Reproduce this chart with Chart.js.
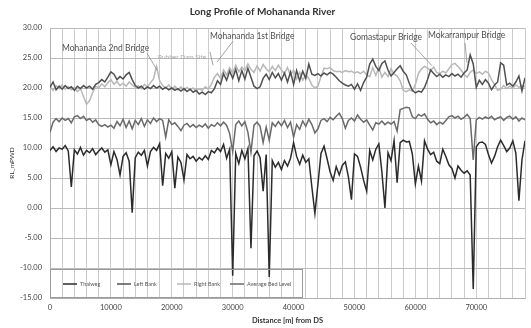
<!DOCTYPE html>
<html>
<head>
<meta charset="utf-8">
<title>Long Profile of Mohananda River</title>
<script src="https://cdn.jsdelivr.net/npm/chart.js@4.4.0/dist/chart.umd.min.js"></script>
<style>
  html, body { margin: 0; padding: 0; background: #ffffff; }
  #wrap { width: 531px; height: 328px; position: relative; }
</style>
</head>
<body>
<div id="wrap"><canvas id="profile" width="531" height="328"></canvas></div>
<script>
// Cross-section spacing along the river (m from downstream end)
const sectionSpacing = 500;

// Thalweg (deepest bed point) elevation, m PWD
const thalweg = [
  9.6, 10.2, 9.4, 10.0, 9.8, 10.4, 9.5, 3.5, 9.7, 9.0,
  10.1, 8.8, 9.6, 9.2, 9.9, 8.9, 9.5, 10.0, 9.3, 9.7,
  7.2, 9.4, 8.1, 5.5, 8.6, 9.2, 7.8, -0.8, 8.4, 9.3,
  8.8, 9.6, 7.0, 9.4, 10.1, 9.6, 10.7, 3.7, 9.1, 8.3,
  9.4, 3.3, 8.5, 7.6, 4.7, 8.9, 8.2, 8.6, 7.8, 8.4,
  8.0, 8.7, 8.1, 9.6, 9.2, 10.0, 9.4, 10.6, 8.3, 9.8,
  -11.3, 9.1, 7.4, 9.6, 8.2, 9.9, -6.7, 8.7, 9.5, 8.4,
  2.8, 8.9, -11.5, 7.9, 6.8, 7.6, 6.4, 7.9, 7.0, 8.3,
  10.9, 8.6, 7.3, 8.8, 7.6, 8.2, 3.5, -0.9, 4.0, 9.1,
  10.3, 8.2, 6.0, 4.6, 6.9, 5.5, 7.1, 7.7, 5.2, 1.4,
  9.0, 8.6, 6.8, 4.6, 2.8, 9.6, 8.0, 9.8, 10.7, 6.0,
  0.0, 9.2, 7.9, 11.2, 4.2, 10.9, 11.3, 11.0, 11.1, 9.0,
  4.0, 7.0, 4.5, 11.2, 9.8, 8.9, 9.3, 7.8, 7.4, 9.8,
  8.6, 7.2, 6.6, 5.0, 7.0, 6.3, 5.8, 6.2, 5.5, -13.5,
  10.2, 10.9, 11.0, 10.6, 8.9, 7.5, 8.6, 10.2, 11.3, 10.4,
  9.4, 10.0, 11.2, 9.1, 1.2, 8.0, 11.2
];

// Left bank top elevation, m PWD
const leftBank = [
  20.1, 21.0, 19.7, 20.3, 19.8, 20.4, 19.9, 20.2, 19.6, 20.3,
  19.9, 20.4, 20.0, 20.3, 19.8, 20.6, 20.9, 21.4, 21.0, 21.8,
  22.7, 22.3, 21.4, 21.9, 21.5, 22.2, 22.6, 21.4, 20.4, 20.0,
  20.3, 19.8, 20.2, 19.9, 20.4, 20.0, 20.3, 19.8, 20.1, 19.7,
  20.0, 19.6, 19.9, 19.5, 19.9, 19.4, 19.8, 19.3, 19.6, 19.0,
  19.3, 18.9, 19.4, 19.2, 19.9, 21.2, 20.6, 22.4, 21.3, 22.8,
  21.6, 23.1, 21.2, 22.9, 21.5, 23.3, 21.8, 20.3, 19.9, 20.2,
  21.6, 22.3, 21.4, 22.6, 21.7, 22.4, 21.3, 22.5, 21.0, 22.7,
  20.6, 22.9, 21.2, 22.8, 21.6, 24.0, 22.3, 22.1, 22.4, 22.0,
  22.5, 22.2, 22.6, 22.3, 21.8, 21.2, 20.8, 20.5, 20.3, 20.6,
  19.8, 20.7, 19.6, 20.9, 21.8, 24.0, 24.8, 23.6, 22.9, 24.1,
  24.5, 23.0, 22.0, 22.6, 23.2, 23.7, 22.8, 22.2, 20.8, 19.6,
  19.2, 19.5, 19.3, 20.1, 21.4, 23.0, 22.4, 21.9, 22.3, 21.8,
  22.2, 21.9, 22.4, 22.0, 22.3, 21.8, 22.5, 23.0, 25.5, 24.0,
  20.1, 21.3, 20.6, 21.4, 20.8, 19.7, 20.5, 21.0, 24.2, 23.8,
  20.5, 20.8, 20.3, 21.0, 22.0, 19.5, 21.7
];

// Right bank top elevation, m PWD
const rightBank = [
  20.3, 19.6, 20.4, 19.9, 20.5, 19.8, 20.2, 19.7, 20.1, 19.4,
  19.9, 18.6, 17.3, 17.9, 19.2, 20.3, 20.0, 20.7, 20.2, 20.9,
  21.4, 20.6, 21.1, 20.4, 20.8, 20.3, 21.0, 20.5, 20.1, 20.4,
  19.9, 20.6, 20.2, 20.9, 21.5, 23.6, 21.2, 20.4, 20.0, 20.5,
  19.8, 20.3, 19.7, 20.2, 19.6, 20.1, 19.7, 20.0, 19.5, 19.9,
  19.6, 20.2, 19.8, 20.6, 21.8, 22.4, 21.6, 23.0, 22.2, 23.4,
  22.5, 23.8, 22.7, 23.5, 22.9, 24.0, 23.1, 22.6, 23.7, 22.8,
  23.9, 23.2, 22.7, 23.6, 22.9, 23.8, 23.0, 22.4, 23.4, 22.1,
  23.0, 21.5, 22.6, 21.3, 22.2, 21.6, 20.5, 20.0, 20.3, 21.9,
  23.3, 23.2, 23.4, 22.9, 22.7, 22.8, 22.6, 22.9, 22.7, 22.8,
  22.5, 22.7, 22.4, 22.8, 22.2, 21.9, 23.4, 22.1, 23.5, 21.8,
  22.6, 21.9, 23.2, 22.3, 22.0, 21.2, 19.6, 19.4, 19.7, 19.5,
  20.6, 22.4, 23.2, 23.6, 23.3, 22.9, 23.5, 22.6, 22.4, 22.8,
  22.5, 23.2, 23.9, 24.1, 23.6, 23.0, 22.3, 21.8, 22.6, 23.0,
  22.4, 22.7, 22.3, 22.8, 22.5, 21.4, 20.6, 19.6, 19.8, 20.4,
  19.9, 20.3, 20.0, 20.5, 20.1, 20.4, 20.2
];

// Average bed level, m PWD
const averageBed = [
  12.6, 14.3, 14.9, 14.4, 15.0, 14.6, 14.9, 14.2, 15.2, 15.4,
  14.9, 15.3, 14.6, 14.9, 14.3, 14.7, 13.9, 13.6, 13.9, 13.5,
  13.8, 13.3, 14.4, 13.7, 14.8, 13.4, 14.5, 13.2, 14.6, 13.9,
  14.9, 13.6, 14.7, 14.1, 15.0, 14.4, 14.9, 14.6, 11.8, 14.7,
  13.9, 14.2, 13.6, 12.9, 13.8, 14.1, 13.5, 13.9, 13.4, 13.8,
  13.5, 14.0, 13.3, 13.9, 13.6, 14.2, 13.7, 14.3, 13.8, 12.4,
  9.4, 13.9, 14.5, 13.7, 14.4, 12.6, 9.3, 13.8, 14.3, 13.6,
  10.9, 13.5, 11.3, 14.2, 13.6, 14.4, 13.7, 14.6, 13.4, 14.3,
  11.8, 13.9, 13.1, 14.5, 13.6, 14.8, 13.9, 12.5, 13.2, 14.6,
  14.9, 14.4, 15.1, 14.7, 15.3, 15.8, 14.9, 13.3, 14.6, 15.0,
  14.5, 15.5, 14.8, 14.3, 14.7, 13.8, 13.0, 14.2, 14.0, 14.5,
  13.9, 14.3, 14.0, 14.4, 12.8, 16.4, 16.6, 16.8, 16.7, 15.2,
  14.9, 15.6, 15.3, 15.7, 14.8, 14.2, 14.5, 13.9, 14.3, 14.0,
  14.6, 15.2, 15.4, 15.0, 15.3, 14.8, 15.1, 15.6, 14.9, 8.0,
  14.7, 15.1, 14.8, 15.2, 14.9, 15.3, 14.7, 15.0, 15.2, 14.6,
  15.1, 15.3, 14.8, 15.2, 14.5, 15.0, 14.7
];

// Series names as shown in the legend
const seriesNames = ['Thalweg', 'Left Bank', 'Right Bank', 'Average Bed Level'];

// Structures along the reach
const structureNames = ['Mohananda 2nd Bridge', 'Rubber Dam Site', 'Mohananda 1st Bridge', 'Gomastapur Bridge', 'Mokarrampur Bridge'];

// Axis limits and tick spacing
const xMin = 0, xMax = 78000, xGridStep = 2000, xLabelStep = 10000;
const yMin = -15, yMax = 30, yStep = 5;

const chainage = thalweg.map((_, i) => i * sectionSpacing);
const toPoints = arr => arr.map((v, i) => ({ x: chainage[i], y: v }));

const FONT = 'Lato, "Open Sans", "Liberation Sans", sans-serif';
const seriesColors = ['#2b2b2b', '#505050', '#b8b8b8', '#6a6a6a'];

// Callout labels with leader lines, placed in data coordinates
const callouts = [
  { name: structureNames[0], text: [1970, 26.7], from: [15930, 25.8], to: [17570, 23.0], color: '#505050', size: 8.5 },
  { name: structureNames[1], text: [17730, 25.2], from: [26270, 26.0], to: [26770, 23.8], color: '#a8a8a8', size: 6.5 },
  { name: structureNames[2], text: [26270, 28.7], from: [30050, 27.8], to: [27420, 24.3], color: '#505050', size: 8.5 },
  { name: structureNames[3], text: [49260, 28.5], from: [59280, 27.5], to: [62730, 23.7], color: '#505050', size: 8.5 },
  { name: structureNames[4], text: [62070, 28.8], from: [68150, 27.5], to: [68470, 24.2], color: '#505050', size: 8.5 }
];

const calloutPlugin = {
  id: 'callouts',
  afterDatasetsDraw(chart) {
    const { ctx, scales: { x, y } } = chart;
    ctx.save();
    callouts.forEach(c => {
      ctx.strokeStyle = '#8a8a8a';
      ctx.lineWidth = 0.8;
      ctx.beginPath();
      ctx.moveTo(x.getPixelForValue(c.from[0]), y.getPixelForValue(c.from[1]));
      ctx.lineTo(x.getPixelForValue(c.to[0]), y.getPixelForValue(c.to[1]));
      ctx.stroke();
      ctx.fillStyle = c.color;
      ctx.font = `${c.size}px ${FONT}`;
      ctx.textBaseline = 'middle';
      ctx.textAlign = 'left';
      ctx.fillText(c.name, x.getPixelForValue(c.text[0]), y.getPixelForValue(c.text[1]));
    });
    ctx.restore();
  }
};

// Legend box drawn in the lower-left corner of the plot
const insetLegend = {
  id: 'insetLegend',
  afterDatasetsDraw(chart) {
    const { ctx, chartArea } = chart;
    const left = chartArea.left, bottom = chartArea.bottom;
    const w = 252, h = 29;
    const top = bottom - h;
    ctx.save();
    ctx.strokeStyle = '#9a9a9a';
    ctx.lineWidth = 1;
    ctx.strokeRect(left + 0.5, top + 0.5, w, h - 1);
    const cy = top + 15;
    const itemX = [13, 67, 127, 180];
    chart.data.datasets.forEach((ds, i) => {
      const x0 = left + itemX[i];
      ctx.strokeStyle = ds.borderColor;
      ctx.lineWidth = 1.5;
      ctx.beginPath();
      ctx.moveTo(x0, cy);
      ctx.lineTo(x0 + 14, cy);
      ctx.stroke();
      ctx.fillStyle = '#555555';
      ctx.font = `5.5px ${FONT}`;
      ctx.textBaseline = 'middle';
      ctx.textAlign = 'left';
      ctx.fillText(ds.label, x0 + 17, cy);
    });
    ctx.restore();
  }
};

new Chart(document.getElementById('profile'), {
  type: 'line',
  data: {
    datasets: [thalweg, leftBank, rightBank, averageBed].map((arr, i) => ({
      label: seriesNames[i],
      data: toPoints(arr),
      borderColor: seriesColors[i],
      backgroundColor: seriesColors[i],
      borderWidth: 1.5,
      pointRadius: 0,
      tension: 0,
      fill: false
    }))
  },
  options: {
    responsive: false,
    animation: false,
    layout: { padding: { left: 0, right: 6, top: 0, bottom: 0 } },
    plugins: {
      legend: { display: false },
      tooltip: { enabled: false },
      title: {
        display: true,
        text: 'Long Profile of Mohananda River',
        color: '#333333',
        font: { family: FONT, size: 10, weight: 'bold' },
        padding: { top: 6, bottom: 10 }
      }
    },
    scales: {
      x: {
        type: 'linear',
        min: xMin,
        max: xMax,
        afterFit(scale) { scale.height = 30; },
        grid: { color: '#cccccc', lineWidth: 1, drawTicks: false },
        border: { color: '#b0b0b0' },
        ticks: {
          stepSize: xGridStep,
          autoSkip: false,
          maxRotation: 0,
          padding: 5,
          color: '#444444',
          font: { family: FONT, size: 7.5 },
          callback: v => (v % xLabelStep === 0 ? String(v) : '')
        },
        title: {
          display: true,
          text: 'Distance [m] from DS',
          color: '#333333',
          font: { family: FONT, size: 7.5, weight: 'bold' },
          padding: { top: 0, bottom: 3 }
        }
      },
      y: {
        min: yMin,
        max: yMax,
        afterFit(scale) { scale.width = 50; },
        grid: { color: '#bbbbbb', lineWidth: 1, drawTicks: false },
        border: { color: '#b0b0b0' },
        ticks: {
          stepSize: yStep,
          padding: 8,
          color: '#444444',
          font: { family: FONT, size: 7.5 },
          callback: v => Number(v).toFixed(2)
        },
        title: {
          display: true,
          text: 'RL_mPWD',
          color: '#333333',
          font: { family: FONT, size: 6.5 },
          padding: { top: 8, bottom: 0 }
        }
      }
    }
  },
  plugins: [calloutPlugin, insetLegend]
});
</script>
</body>
</html>
